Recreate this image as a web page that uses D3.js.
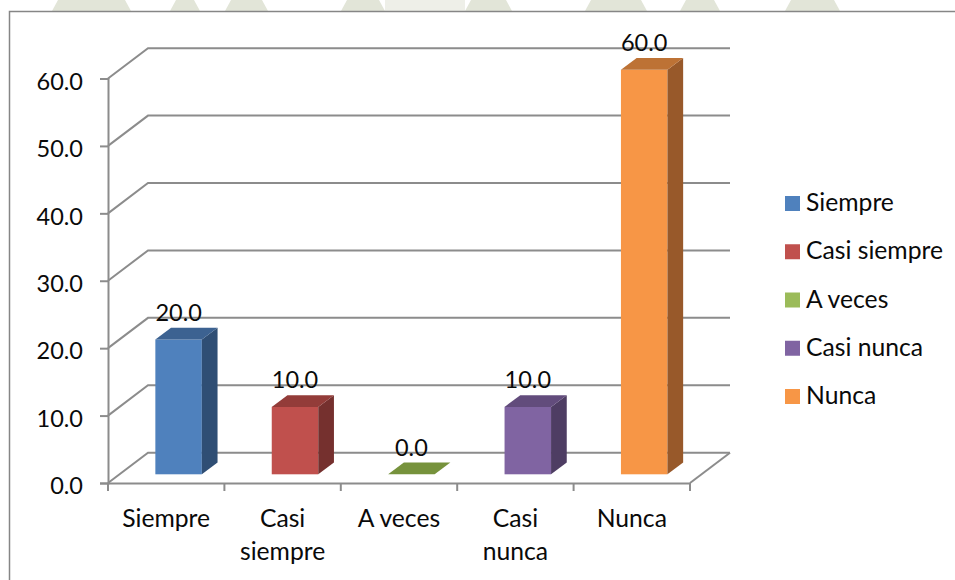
<!DOCTYPE html>
<html>
<head>
<meta charset="utf-8">
<script src="https://cdn.jsdelivr.net/npm/d3@7"></script>
<style>
  html, body { margin: 0; padding: 0; background: #fff; }
  svg { display: block; }
  text { font-family: Lato, sans-serif; fill: #0a0a0a; }
</style>
</head>
<body>
<div id="chart"></div>
<script>
const categories = ["Siempre", "Casi siempre", "A veces", "Casi nunca", "Nunca"];
const values = [20, 10, 0, 10, 60];
const yTicks = [0, 10, 20, 30, 40, 50, 60];
const xLabels = [["Siempre"], ["Casi", "siempre"], ["A veces"], ["Casi", "nunca"], ["Nunca"]];
const frontColors = ["#4f81bd", "#c0504d", "#9bbb59", "#8064a2", "#f79646"];
const topColors = ["#3c6291", "#933c39", "#76923c", "#624c7c", "#bd7235"];
const sideColors = ["#2f4e74", "#75302e", "#5f7530", "#4e3d63", "#98592a"];

const svgWidth = 955, svgHeight = 580;
const labelSize = 24.7, numberSize = 23.5;
const svg = d3.select("#chart").append("svg")
    .attr("width", svgWidth)
    .attr("height", svgHeight);

// faded watermark above the chart frame
const wash = svg.append("g").attr("fill", "#e2e5d8");
[[52, 131], [170, 200], [225, 268], [341, 385], [465, 512], [585, 647], [680, 720], [785, 840]].forEach(d => {
    wash.append("path").attr("d", `M${d[0]},11 L${d[0] + 6},0 L${d[1] - 6},0 L${d[1]},11 Z`);
});
wash.append("rect").attr("x", 385).attr("y", 0).attr("width", 80).attr("height", 11).attr("fill", "#eeefe8");

svg.append("path")
    .attr("d", `M9.5,${svgHeight} V11.5 H${svgWidth}`)
    .attr("fill", "none")
    .attr("stroke", "#868686")
    .attr("stroke-width", 1.5);

const x = d3.scaleBand().domain(categories).range([108, 690]);
const y = d3.scaleLinear().domain([0, 60]).range([483, 78.5]);
const wallDx = 40, wallDy = -30.3;
const barW = 46.5, barDx = 15.7, barDy = -11.7, barLift = 8.7;
const gridColor = "#8c8c8c";

// walls and gridlines
const grid = svg.append("g").attr("fill", "none").attr("stroke", gridColor).attr("stroke-width", 2);
yTicks.forEach(t => {
    grid.append("path").attr("d", d3.line()([
        [x.range()[0], y(t)],
        [x.range()[0] + wallDx, y(t) + wallDy],
        [x.range()[1] + wallDx, y(t) + wallDy]
    ]));
});
grid.append("path").attr("d", d3.line()([
    [x.range()[1], y(0)],
    [x.range()[1] + wallDx, y(0) + wallDy]
]));

// axes
const yAxis = svg.append("g")
    .attr("transform", `translate(${x.range()[0]},0)`)
    .call(d3.axisLeft(y).tickValues(yTicks).tickFormat(d3.format(".1f")).tickSize(8).tickPadding(17));
yAxis.selectAll("text").attr("dy", "0.46em");
const xAxis = svg.append("g")
    .attr("transform", `translate(0,${y(0)})`)
    .call(d3.axisBottom(x).tickValues([]).tickSize(0));
xAxis.selectAll("g.edge").data(d3.range(categories.length + 1)).enter().append("line")
    .attr("x1", i => x.range()[0] + i * x.step())
    .attr("x2", i => x.range()[0] + i * x.step())
    .attr("y1", 0)
    .attr("y2", 8)
    .attr("stroke", gridColor)
    .attr("stroke-width", 2);
[yAxis, xAxis].forEach(a => {
    a.selectAll(".domain").attr("stroke", gridColor).attr("stroke-width", 2);
    a.selectAll(".tick line").attr("stroke", gridColor).attr("stroke-width", 2);
    a.selectAll("text").style("font-size", numberSize + "px").style("font-family", "Lato, sans-serif").attr("fill", "#0a0a0a");
});

// category labels
xLabels.forEach((lines, i) => {
    const t = svg.append("text")
        .attr("text-anchor", "middle")
        .attr("font-size", labelSize)
        .attr("x", x(categories[i]) + x.bandwidth() / 2)
        .attr("y", 527);
    lines.forEach((line, j) => {
        t.append("tspan")
            .attr("x", x(categories[i]) + x.bandwidth() / 2)
            .attr("dy", j ? 32.5 : 0)
            .text(line);
    });
});

// 3D bars
const bars = svg.append("g").selectAll("g").data(values).enter().append("g");
const bx = i => x(categories[i]) + (x.bandwidth() - barW) / 2 + 12.4;
bars.each(function (v, i) {
    const g = d3.select(this);
    const left = bx(i), right = left + barW;
    const base = y(0) - barLift, top = y(v) - barLift;
    if (v > 0) {
        g.append("rect")
            .attr("x", left).attr("y", top)
            .attr("width", barW).attr("height", base - top)
            .attr("fill", frontColors[i]);
        g.append("path")
            .attr("d", d3.line()([[right, top], [right + barDx, top + barDy], [right + barDx, base + barDy], [right, base]]))
            .attr("fill", sideColors[i]);
    }
    g.append("path")
        .attr("d", d3.line()([[left, top], [left + barDx, top + barDy], [right + barDx, top + barDy], [right, top]]))
        .attr("fill", topColors[i]);
    g.append("text")
        .attr("text-anchor", "middle")
        .attr("font-size", numberSize)
        .attr("x", left + barW / 2)
        .attr("y", top + barDy - 7)
        .text(d3.format(".1f")(v));
});

// legend
const legend = svg.append("g").selectAll("g").data(categories).enter().append("g")
    .attr("transform", (d, i) => `translate(785,${196 + i * 48.25})`);
legend.append("rect").attr("width", 15).attr("height", 15).attr("fill", (d, i) => frontColors[i]);
legend.append("text")
    .attr("x", 21)
    .attr("y", 15)
    .attr("font-size", labelSize)
    .text(d => d);
</script>
</body>
</html>
